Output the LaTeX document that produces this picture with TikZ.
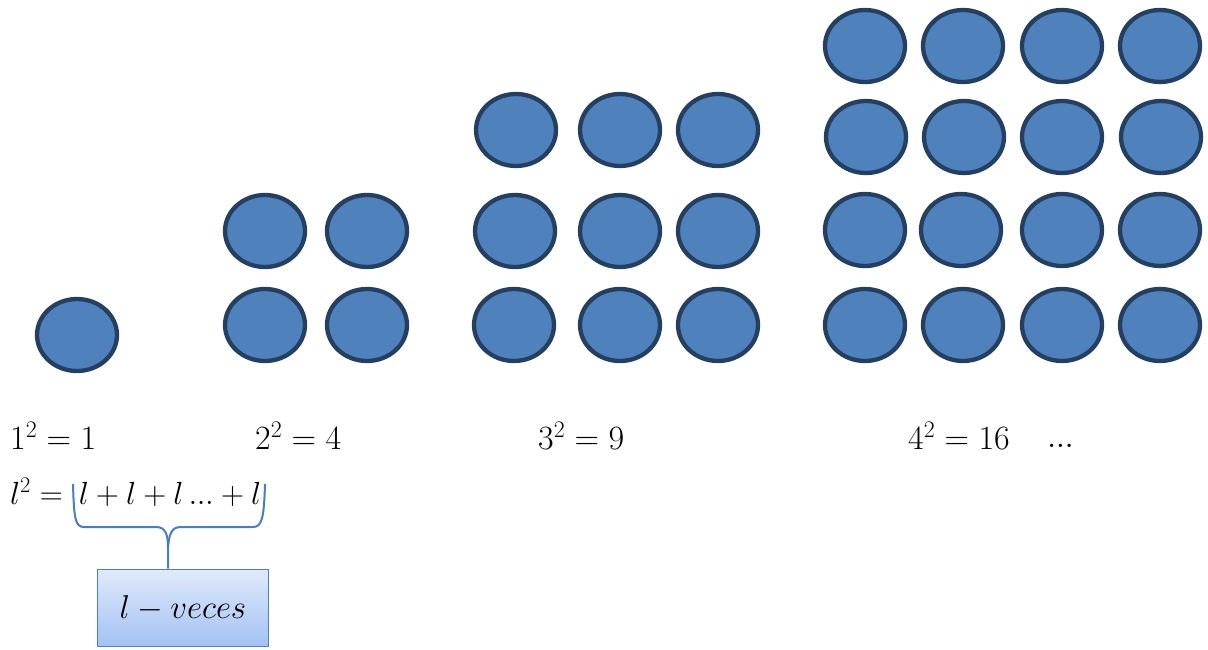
\documentclass[tikz,border=0pt]{standalone}
\usepackage{fix-cm}
\usepackage{amsmath}
\usetikzlibrary{shapes.geometric}
\definecolor{dotfill}{HTML}{4F81BD}
\definecolor{dotline}{HTML}{243F60}
\definecolor{bracecol}{HTML}{4A7EBB}
\definecolor{boxtop}{HTML}{E0EAFB}
\definecolor{boxbot}{HTML}{A3C1F3}
\definecolor{boxline}{HTML}{4F7FBA}
\tikzset{
  dot/.style={ellipse, draw=dotline, fill=dotfill, line width=4.3pt, inner sep=0pt,
    minimum width=80pt, minimum height=72pt},
  eq/.style={anchor=west, inner sep=0pt, font=\fontsize{34}{40}\selectfont},
  geneq/.style={anchor=west, inner sep=0pt, font=\fontsize{32}{38}\selectfont},
  bracepath/.style={draw=bracecol, line width=2pt},
  labelbox/.style={draw=boxline, line width=1.8pt, top color=boxtop, bottom color=boxbot,
    minimum width=171pt, minimum height=77pt, inner sep=0pt, font=\fontsize{33}{38}\selectfont}
}
\newcommand{\mydots}{\mathinner{.\kern-0.5pt.\kern-0.5pt.}}
\begin{document}
\begin{tikzpicture}[x=1pt,y=-1pt]
\useasboundingbox (0,0) rectangle (1208,650);
% one
\node[dot] (a11) at (77,335) {};
% two
\node[dot] (b11) at (265,231) {};
\node[dot] (b12) at (367,231) {};
\node[dot] (b21) at (265,325) {};
\node[dot] (b22) at (367,325) {};
% three
\node[dot] (c11) at (516,130) {};
\node[dot] (c12) at (620,130) {};
\node[dot] (c13) at (718,130) {};
\node[dot] (c21) at (515,231) {};
\node[dot] (c22) at (620,231) {};
\node[dot] (c23) at (718,231) {};
\node[dot] (c31) at (514,325) {};
\node[dot] (c32) at (620,325) {};
\node[dot] (c33) at (718,325) {};
% four
\node[dot] (d11) at (865,46) {};
\node[dot] (d12) at (963,46) {};
\node[dot] (d13) at (1062,46) {};
\node[dot] (d14) at (1160,46) {};
\node[dot] (d21) at (866,137) {};
\node[dot] (d22) at (964,137) {};
\node[dot] (d23) at (1062,137) {};
\node[dot] (d24) at (1161,137) {};
\node[dot] (d31) at (865,230) {};
\node[dot] (d32) at (961,230) {};
\node[dot] (d33) at (1062,230) {};
\node[dot] (d34) at (1160,230) {};
\node[dot] (d41) at (865,325) {};
\node[dot] (d42) at (963,325) {};
\node[dot] (d43) at (1062,325) {};
\node[dot] (d44) at (1160,325) {};
% equations
\node[eq] (e1) at (10,436) {$1^2 = 1$};
\node[eq] (e2) at (255,436) {$2^2 = 4$};
\node[eq] (e3) at (538,436) {$3^2 = 9$};
\node[eq] (e4) at (908,436) {$4^2 = 16$};
\node[eq, anchor=base west] (e5) at (1047,447) {$\mydots$};
\node[geneq] (gen) at (10,492) {$l^2 = \kern7pt l + l + l \mydots + l$};
% box
\node[labelbox] (box) at (183,608) {$l - veces$};
% brace
\coordinate (bl) at (73,484);
\coordinate (br) at (265,484);
\coordinate (stem) at (168,548);
\draw[bracepath] (bl) .. controls (74,518) and (75,527) .. (84,527) -- (156,527)
  .. controls (166,527) and (168,535) .. (stem) -- (stem |- box.north);
\draw[bracepath] (br) .. controls (264,518) and (262,527) .. (253,527) -- (181,527)
  .. controls (171,527) and (169,535) .. (stem);
\end{tikzpicture}
\end{document}
